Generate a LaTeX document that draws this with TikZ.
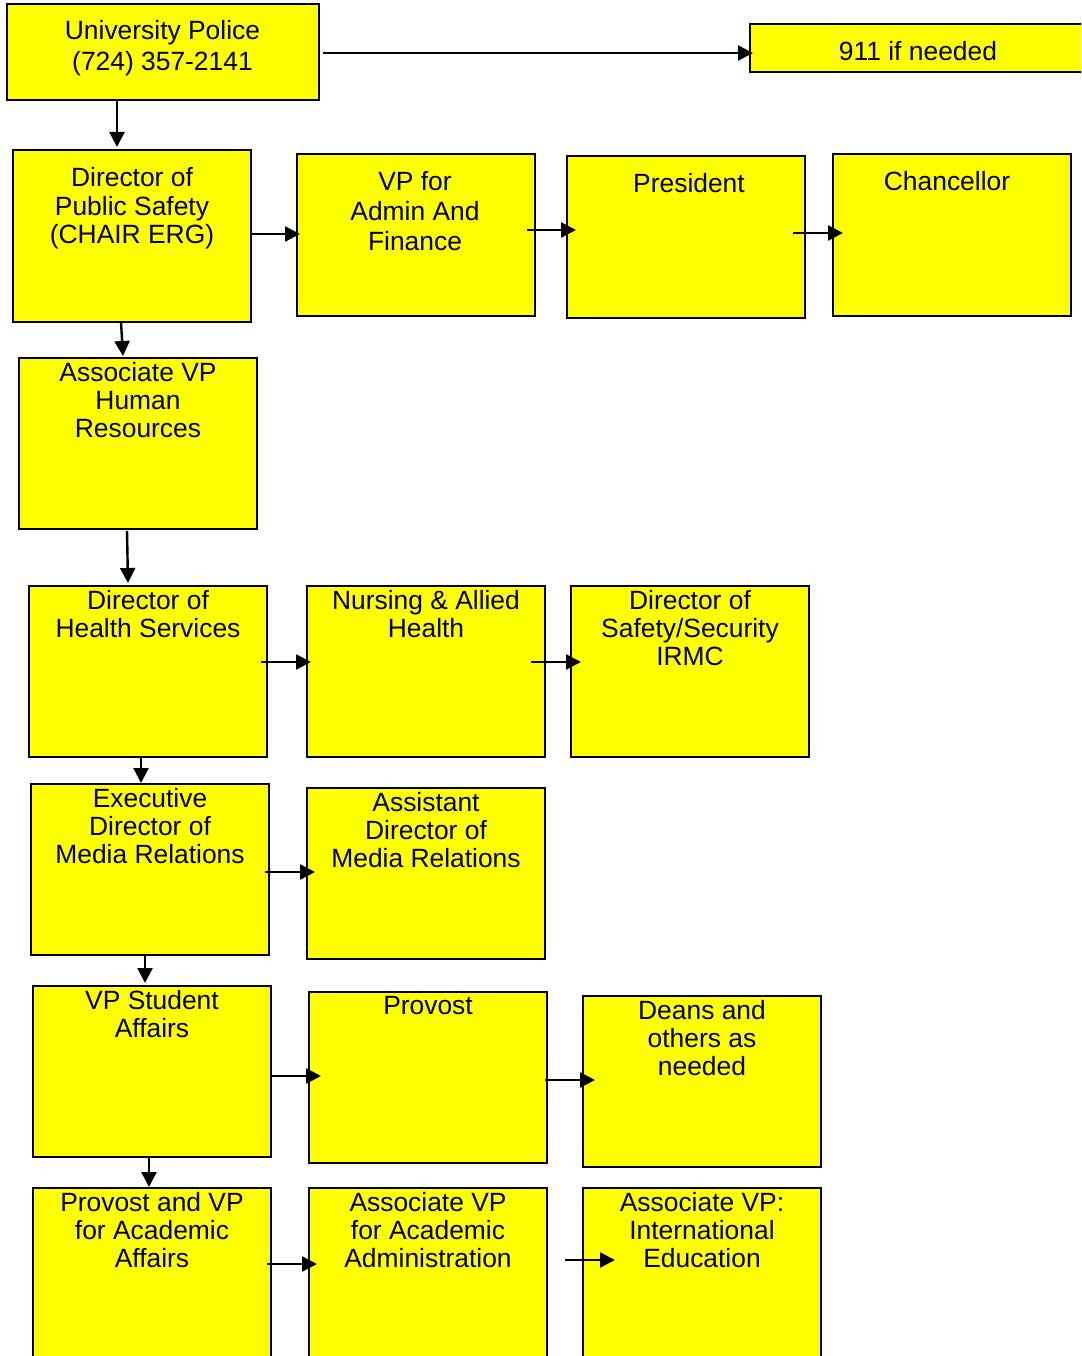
\documentclass[tikz,border=0pt]{standalone}
\usepackage{fontspec}
\setmainfont{Liberation Sans}
\usetikzlibrary{arrows.meta,calc}
\definecolor{boxyellow}{HTML}{FFFF00}
\newcommand\orgbox[5]{\node[box, minimum width=#4, minimum height=#5] (#1) at (#2,#3) {};}
\begin{document}
\begin{tikzpicture}[x=1pt,y=-1pt,
  box/.style={draw=black, line width=2.2pt, fill=boxyellow, rectangle, inner sep=0pt, outer sep=0pt, anchor=north west},
  txt/.style={font=\fontsize{26.4}{28}\selectfont, align=center, inner sep=0pt, anchor=north, text=black},
  arr/.style={draw=black, line width=2.4pt, -{Triangle[length=15pt,width=15pt]}}]
\useasboundingbox (0,0) rectangle (1081,1356);
\clip (0,0) rectangle (1081,1356);
\fill[white] (0,0) rectangle (1081,1356);

% boxes
\orgbox{up}{7}{4}{312}{96}
\orgbox{n911}{750}{24}{340}{48}
\orgbox{dps}{13}{150}{238}{172}
\orgbox{vp}{297}{154}{238}{162}
\orgbox{pres}{567}{156}{238}{162}
\orgbox{chan}{833}{154}{238}{162}
\orgbox{hr}{19}{358}{238}{171}
\orgbox{hs}{29}{586}{238}{171}
\orgbox{nah}{307}{586}{238}{171}
\orgbox{ssi}{571}{586}{238}{171}
\orgbox{edmr}{31}{784}{238}{171}
\orgbox{admr}{307}{788}{238}{171}
\orgbox{vpsa}{33}{986}{238}{171}
\orgbox{prov}{309}{992}{238}{171}
\orgbox{deans}{583}{996}{238}{171}
\orgbox{pvp}{33}{1188}{238}{200}
\orgbox{avpaa}{309}{1188}{238}{200}
\orgbox{intl}{583}{1188}{238}{200}

% texts
\node[txt] (upt) at (162.5,20.5) {University Police\\[3pt](724) 357-2141};
\node[txt] (n911t) at (918,41.5) {911 if needed};
\node[txt] (dpst) at (132,167.5) {Director of\\[1pt]Public Safety\\(CHAIR ERG)};
\node[txt] (vpt) at (415,171.5) {VP for\\[2pt]Admin And\\[2pt]Finance};
\node[txt] (prest) at (689,173.5) {President};
\node[txt] (chant) at (947,171.5) {Chancellor};
\node[txt] (hrt) at (138,362.5) {Associate VP\\Human\\Resources};
\node[txt] (hst) at (148,590.5) {Director of\\Health Services};
\node[txt] (naht) at (426,590.5) {Nursing \& Allied\\Health};
\node[txt] (ssit) at (690,590.5) {Director of\\Safety/Security\\IRMC};
\node[txt] (edmrt) at (150,788.5) {Executive\\Director of\\Media Relations};
\node[txt] (admrt) at (426,792.5) {Assistant\\Director of\\Media Relations};
\node[txt] (vpsat) at (152,990.5) {VP Student\\Affairs};
\node[txt] (provt) at (428,996.5) {Provost};
\node[txt] (deanst) at (702,1000.5) {Deans and\\others as\\needed};
\node[txt] (pvpt) at (152,1192.5) {Provost and VP\\for Academic\\Affairs};
\node[txt] (avpaat) at (428,1192.5) {Associate VP\\for Academic\\Administration};
\node[txt] (intlt) at (702,1192.5) {Associate VP:\\International\\Education};

% connectors
\draw[arr] ($(up.north east)+(4,49)$) -- ($(n911.north west)+(3,29)$);
\draw[arr] ($(up.south west)+(110,0)$) -- ($(dps.north west)+(104,-3)$);
\draw[arr] ($(dps.north east)+(0,84)$) -- ($(vp.north west)+(3,80)$);
\draw[arr] ($(vp.north east)+(-8,76)$) -- ($(pres.north west)+(9,74)$);
\draw[arr] ($(pres.north east)+(-12,77)$) -- ($(chan.north west)+(10,79)$);
\draw[arr] ($(dps.south west)+(108,0)$) -- ($(hr.north west)+(104,-2)$);
\draw[arr] ($(hr.south west)+(108,2)$) -- ($(hs.north west)+(99,-3)$);
\draw[arr] ($(hs.north east)+(-6,76)$) -- ($(nah.north west)+(4,76)$);
\draw[arr] ($(nah.north east)+(-14,76)$) -- ($(ssi.north west)+(10,76)$);
\draw[arr] ($(hs.south west)+(112,0)$) -- ($(edmr.north west)+(110,-1)$);
\draw[arr] ($(edmr.north east)+(-4,88)$) -- ($(admr.north west)+(8,84)$);
\draw[arr] ($(edmr.south west)+(114,0)$) -- ($(vpsa.north west)+(112,-3)$);
\draw[arr] ($(vpsa.north east)+(0,90)$) -- ($(prov.north west)+(12,84)$);
\draw[arr] ($(prov.north east)+(-2,88)$) -- ($(deans.north west)+(12,84)$);
\draw[arr] ($(vpsa.south west)+(116,0)$) -- ($(pvp.north west)+(116,-1)$);
\draw[arr] ($(pvp.north east)+(-4,76)$) -- ($(avpaa.north west)+(8,76)$);
\draw[arr] ($(avpaa.north east)+(18,72)$) -- ($(intl.north west)+(32,72)$);
\end{tikzpicture}
\end{document}
